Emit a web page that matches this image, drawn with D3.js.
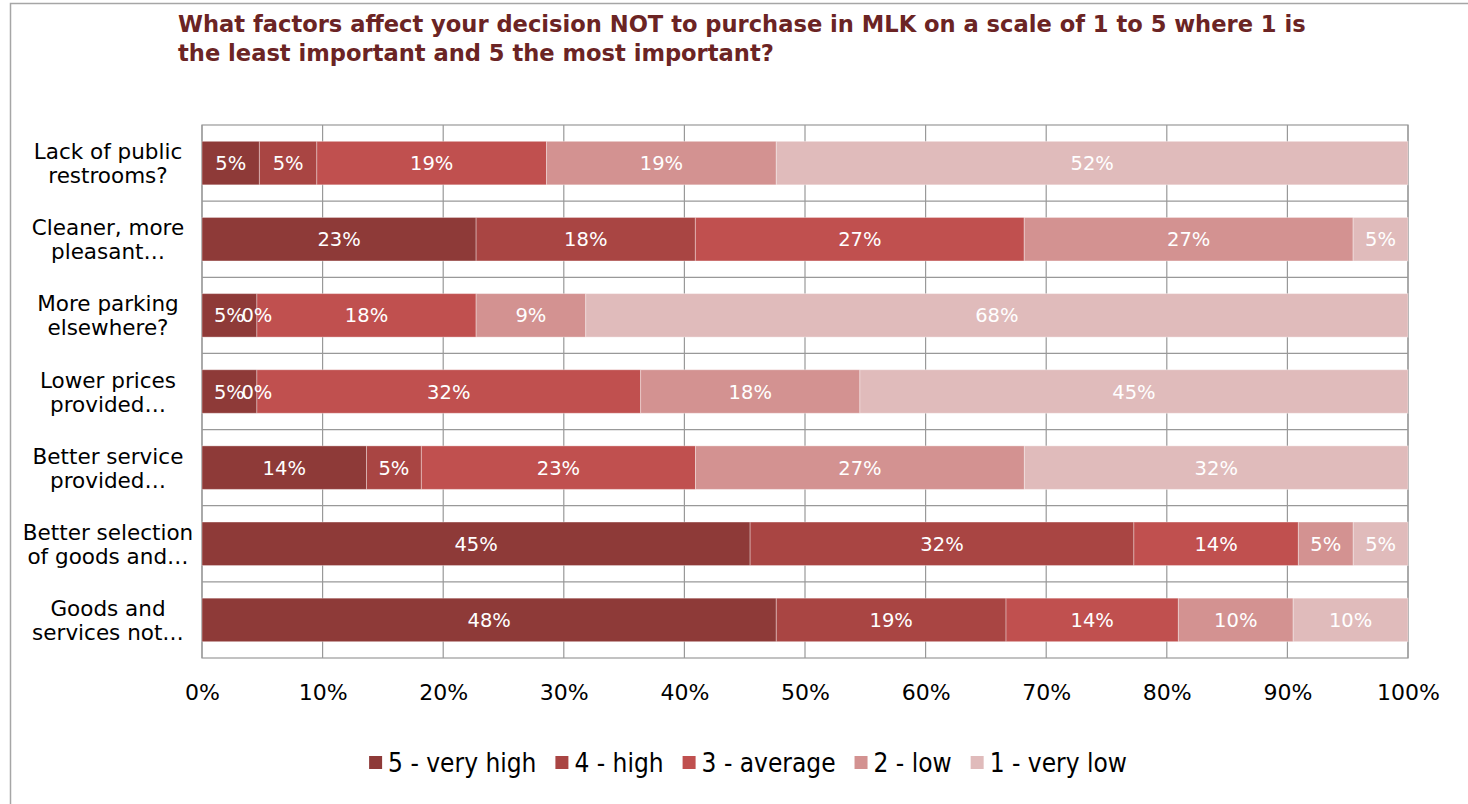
<!DOCTYPE html>
<html>
<head>
<meta charset="utf-8">
<script src="https://cdn.jsdelivr.net/npm/d3@7"></script>
<style>
  body { margin: 0; background: #fff; }
  text { font-family: "DejaVu Sans", sans-serif; }
</style>
</head>
<body>
<div id="chart"></div>
<script>
var w = 1468;
var h = 804;

// data (percent of respondents)
var categories = [
    ["Lack of public", "restrooms?"],
    ["Cleaner, more", "pleasant…"],
    ["More parking", "elsewhere?"],
    ["Lower prices", "provided…"],
    ["Better service", "provided…"],
    ["Better selection", "of goods and…"],
    ["Goods and", "services not…"]
];
var seriesNames = ["5 - very high", "4 - high", "3 - average", "2 - low", "1 - very low"];
var veryHigh = [4.76, 22.73, 4.55, 4.55, 13.64, 45.45, 47.62];
var high     = [4.76, 18.18, 0,    0,    4.55,  31.82, 19.05];
var average  = [19.05, 27.27, 18.18, 31.82, 22.73, 13.64, 14.29];
var low      = [19.05, 27.27, 9.09, 18.18, 27.27, 4.55,  9.52];
var veryLow  = [52.38, 4.55, 68.18, 45.45, 31.82, 4.55,  9.52];
var xTicks = [0, 10, 20, 30, 40, 50, 60, 70, 80, 90, 100];
var colors = ["#8e3a38", "#a94543", "#c0504f", "#d39291", "#e0bbbb"];

var plot = {left: 202, right: 1408, top: 125, bottom: 658};

var svg = d3.select("#chart")
            .append("svg")
            .attr("width", w)
            .attr("height", h);

// outer frame (runs off the right and bottom of the picture)
svg.append("rect")
    .attr("x", 10.5).attr("y", 3.5)
    .attr("width", 1500).attr("height", 900)
    .attr("fill", "none")
    .attr("stroke", "#a6a6a6")
    .attr("stroke-width", 1.5);

// title
var title = svg.append("text")
    .attr("x", 178)
    .attr("fill", "#6b2424")
    .style("font-weight", "bold")
    .style("font-size", "22.6px");
title.append("tspan").attr("x", 178).attr("y", 32)
    .text("What factors affect your decision NOT to purchase in MLK on a scale of 1 to 5 where 1 is");
title.append("tspan").attr("x", 178).attr("y", 61)
    .text("the least important and 5 the most important?");

var xScale = d3.scaleLinear()
    .domain([0, 100])
    .range([plot.left, plot.right]);
var yScale = d3.scaleBand()
    .domain(d3.range(categories.length))
    .range([plot.top, plot.bottom]);
var barH = yScale.bandwidth() / 1.75;

// grid
svg.append("g").selectAll("line")
    .data(xTicks)
    .enter().append("line")
    .attr("x1", d => xScale(d)).attr("x2", d => xScale(d))
    .attr("y1", plot.top).attr("y2", plot.bottom)
    .attr("stroke", "#999").attr("stroke-width", 1.2);
svg.append("g").selectAll("line")
    .data(d3.range(1, categories.length))
    .enter().append("line")
    .attr("x1", plot.left).attr("x2", plot.right)
    .attr("y1", d => yScale(d)).attr("y2", d => yScale(d))
    .attr("stroke", "#999").attr("stroke-width", 1.2);
svg.append("rect")
    .attr("x", plot.left).attr("y", plot.top)
    .attr("width", plot.right - plot.left).attr("height", plot.bottom - plot.top)
    .attr("fill", "none").attr("stroke", "#999").attr("stroke-width", 1.2);

// stack the series
var rows = categories.map((c, i) => {
    var vals = [veryHigh[i], high[i], average[i], low[i], veryLow[i]];
    var x0 = 0;
    return vals.map((v, k) => {
        var seg = {row: i, k: k, v: v, x0: x0, x1: x0 + v};
        x0 += v;
        return seg;
    });
});
var segs = [].concat.apply([], rows);

svg.append("g").selectAll("rect")
    .data(segs)
    .enter().append("rect")
    .attr("x", d => xScale(d.x0))
    .attr("y", d => yScale(d.row) + (yScale.bandwidth() - barH) / 2)
    .attr("width", d => xScale(d.x1) - xScale(d.x0))
    .attr("height", barH)
    .attr("fill", d => colors[d.k])
    .attr("stroke", "rgba(255,255,255,0.35)")
    .attr("stroke-width", 1);

svg.append("g").selectAll("text")
    .data(segs)
    .enter().append("text")
    .attr("x", d => xScale((d.x0 + d.x1) / 2))
    .attr("y", d => yScale(d.row) + yScale.bandwidth() / 2 + 7)
    .attr("text-anchor", "middle")
    .attr("fill", "#fff")
    .style("font-size", "19.5px")
    .text(d => Math.round(d.v) + "%");

// category labels
var catG = svg.append("g").selectAll("text")
    .data(categories)
    .enter().append("text")
    .attr("text-anchor", "middle")
    .attr("fill", "#000")
    .style("font-size", "21.5px");
catG.each(function(d, i) {
    var cy = yScale(i) + yScale.bandwidth() / 2;
    d3.select(this).selectAll("tspan")
        .data(d)
        .enter().append("tspan")
        .attr("x", 108)
        .attr("y", (t, j) => cy - 4 + j * 24)
        .text(t => t);
});

// x axis
var xAxis = d3.axisBottom(xScale)
    .tickValues(xTicks)
    .tickSize(0)
    .tickPadding(26)
    .tickFormat(d => d + "%");
var ax = svg.append("g")
    .attr("transform", "translate(0," + plot.bottom + ")")
    .call(xAxis);
ax.select(".domain").remove();
ax.selectAll("text")
    .style("font-family", "DejaVu Sans, sans-serif")
    .style("font-size", "22px")
    .attr("fill", "#000");

// legend
var legend = svg.append("g");
var lx = 0;
seriesNames.forEach((name, k) => {
    var item = legend.append("g").attr("transform", "translate(" + lx + ",0)");
    item.append("rect")
        .attr("x", 0).attr("y", -7)
        .attr("width", 13).attr("height", 13)
        .attr("fill", colors[k]);
    var t = item.append("text")
        .attr("x", 19).attr("y", 9)
        .style("font-family", "'DejaVu Sans Condensed', sans-serif")
        .style("font-size", "26px")
        .attr("fill", "#000")
        .text(name);
    lx += 19 + t.node().getComputedTextLength() + 19;
});
var lw = lx - 19;
legend.attr("transform", "translate(" + (748 - lw / 2) + ",763)");
</script>
</body>
</html>
